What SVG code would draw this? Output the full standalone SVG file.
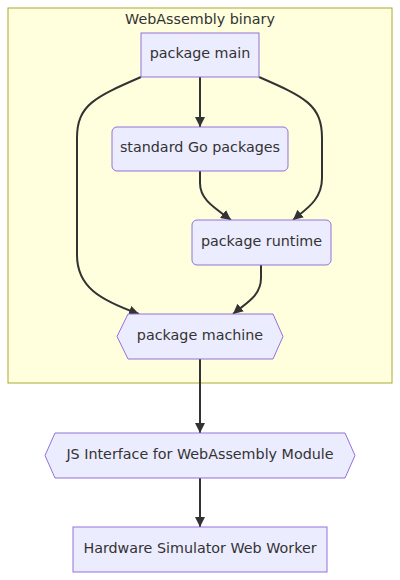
<svg xmlns="http://www.w3.org/2000/svg" width="400" height="580" viewBox="0 0 400 580">
<style>
  .node { fill: #ECECFF; stroke: #9370DB; stroke-width: 1; }
  .label { font-family: "DejaVu Sans", Verdana, sans-serif; font-size: 14.3px; fill: #333333; text-anchor: middle; dominant-baseline: central; }
  .edge { fill: none; stroke: #333333; stroke-width: 2; }
  .cluster { fill: #FFFFDE; stroke: #AAAA33; stroke-width: 1; }
</style>
<defs>
  <marker id="arrow" viewBox="0 0 10 10" refX="10" refY="5" markerUnits="userSpaceOnUse" markerWidth="10" markerHeight="10" orient="auto">
    <path d="M0,0 L10,5 L0,10 z" fill="#333333"/>
  </marker>
</defs>
<g id="cluster-wasm">
  <rect class="cluster" x="8" y="8" width="384" height="375"/>
  <text class="label" x="200" y="19">WebAssembly binary</text>
</g>
<g id="edges">
  <path class="edge" d="M200,77 L200,127" marker-end="url(#arrow)"/>
  <path class="edge" d="M141,77 C95,97 77,105 77,138 L77,255 C77,287 100,300 139,314" marker-end="url(#arrow)"/>
  <path class="edge" d="M259,77 C305,97 322,105 322,138 L322,178 C322,200 306,209 293,220" marker-end="url(#arrow)"/>
  <path class="edge" d="M200,171 L200,183 C200,200 215,208 231,220" marker-end="url(#arrow)"/>
  <path class="edge" d="M261,265 L261,278 C261,296 246,303 233,314" marker-end="url(#arrow)"/>
  <path class="edge" d="M200,359 L200,433" marker-end="url(#arrow)"/>
  <path class="edge" d="M200,478 L200,527" marker-end="url(#arrow)"/>
</g>
<g id="main">
  <rect class="node" x="141" y="33" width="118" height="44"/>
  <text class="label" x="200" y="53">package main</text>
</g>
<g id="stdlib">
  <rect class="node" x="112" y="127" width="176" height="44" rx="5" ry="5"/>
  <text class="label" x="200" y="147">standard Go packages</text>
</g>
<g id="runtime">
  <rect class="node" x="192" y="220" width="139" height="45" rx="5" ry="5"/>
  <text class="label" x="261.5" y="240.5">package runtime</text>
</g>
<g id="machine">
  <polygon class="node" points="128,314 273,314 283,336.5 273,359 128,359 117,336.5"/>
  <text class="label" x="200" y="334.5">package machine</text>
</g>
<g id="jsif">
  <polygon class="node" points="55,433 345,433 355,455.5 345,478 55,478 45,455.5"/>
  <text class="label" x="200" y="453.5">JS Interface for WebAssembly Module</text>
</g>
<g id="worker">
  <rect class="node" x="73" y="527" width="254" height="45"/>
  <text class="label" x="200" y="547.5">Hardware Simulator Web Worker</text>
</g>
</svg>
